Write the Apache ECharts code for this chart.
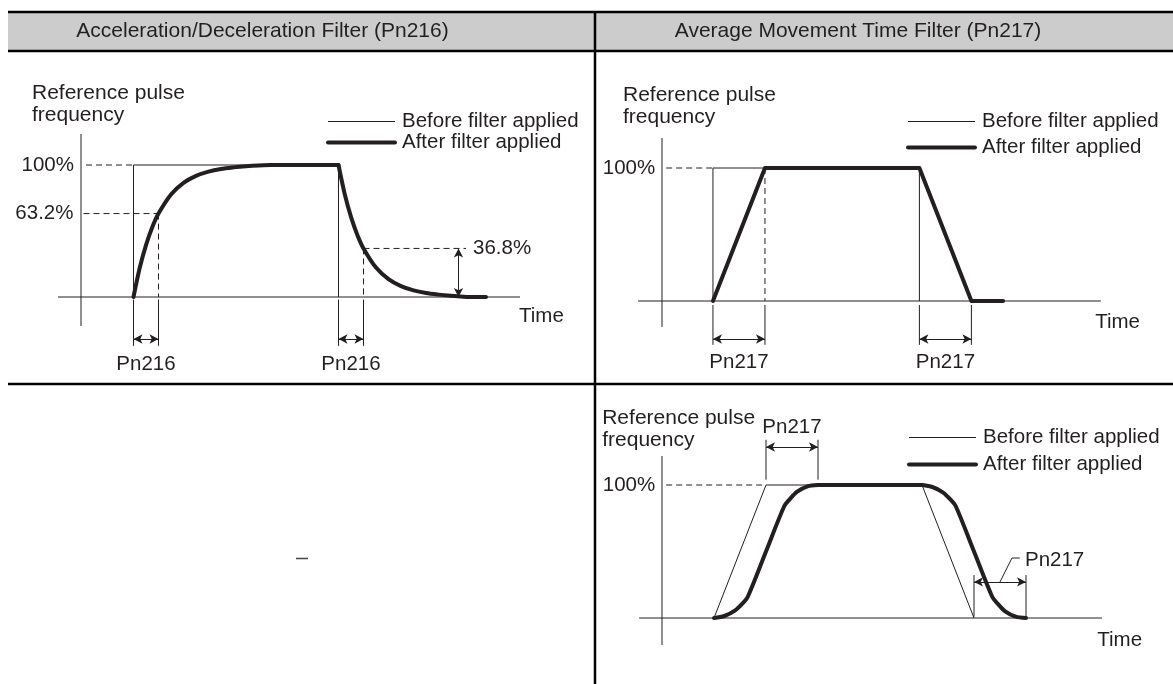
<!DOCTYPE html>
<html>
<head>
<meta charset="utf-8">
<script src="https://cdn.jsdelivr.net/npm/echarts@6/dist/echarts.min.js"></script>
<style>
html,body{margin:0;padding:0;background:#fff;}
#chart{width:1173px;height:684px;}
</style>
</head>
<body>
<div id="chart"></div>
<script>
// ---------------- DATA ----------------
const headerTitles = ['Acceleration/Deceleration Filter (Pn216)', 'Average Movement Time Filter (Pn217)'];
const axisTitle = 'Reference pulse\nfrequency';
const timeLabel = 'Time';
const legendNames = ['Before filter applied', 'After filter applied'];

// Panel 1: acceleration/deceleration filter (time in filter time constants, value in %)
const p1Before = [[2.1, 0], [2.1, 100], [10.3, 100], [10.3, 0]];
const p1AfterRise = [[2.1, 0], [2.35, 22.1], [2.6, 39.3], [2.85, 52.8], [3.1, 63.2], [3.6, 77.7], [4.1, 86.5], [4.6, 91.8], [5.1, 95.0], [5.6, 97.0], [6.1, 98.2], [6.6, 99.1], [7.1, 99.7], [7.6, 100]];
const p1AfterHold = [[7.6, 100], [10.3, 100]];
const p1AfterFall = [[10.3, 100], [10.55, 77.9], [10.8, 60.7], [11.05, 47.2], [11.3, 36.8], [11.8, 22.3], [12.3, 13.5], [12.8, 8.2], [13.3, 5.0], [13.8, 3.0], [14.3, 1.8], [14.8, 0.9], [15.3, 0.2], [15.6, 0]];
const p1AfterTail = [[15.6, 0], [16.2, 0]];
const p1Levels = [100, 63.2, 36.8];
const p1LevelLabels = ['100%', '63.2%', '36.8%'];
const p1Events = [2.1, 3.1, 10.3, 11.3];
const p1EventLabel = 'Pn216';

// Panel 2: average movement time filter, ramp input
const p2Before = [[0.98, 0], [0.98, 100], [4.95, 100], [4.95, 0]];
const p2After = [[0.98, 0], [1.98, 100], [4.95, 100], [5.95, 0], [6.56, 0]];
const p2Levels = [100];
const p2LevelLabels = ['100%'];
const p2Events = [0.98, 1.98, 4.95, 5.95];
const p2EventLabel = 'Pn217';

// Panel 3: average movement time filter, trapezoid input
const p3Before = [[1.0, 0], [2.0, 100], [5.0, 100], [6.0, 0]];
const p3AfterRise = [[1.0, 0], [1.2, 1.5], [1.4, 5.5], [1.55, 11], [1.65, 16], [2.0, 50], [2.35, 84], [2.45, 89], [2.6, 95], [2.8, 99], [3.0, 100]];
const p3AfterHold = [[3.0, 100], [5.0, 100]];
const p3AfterFall = [[5.0, 100], [5.2, 98.5], [5.4, 94.5], [5.55, 89], [5.65, 84], [6.0, 50], [6.35, 16], [6.45, 11], [6.6, 5], [6.8, 1], [7.0, 0]];
const p3Levels = [100];
const p3LevelLabels = ['100%'];
const p3Events = [2.0, 3.0, 6.0, 7.0];
const p3EventLabel = 'Pn217';

// ---------------- STYLE / LAYOUT ----------------
const INK = '#231f20';
const FONT = '"Liberation Sans", Arial, Helvetica, sans-serif';
const FS = 20.5;

// panel coordinate frames: origin pixel, px per unit, value ranges
const frames = [
  {ox: 81, oy: 297, sx: 25, sy: 1.32, xmin: -3, xmax: 20.6, ymin: -66, ymax: 186},
  {ox: 662, oy: 301, sx: 52, sy: 1.33, xmin: -1.25, xmax: 9.8, ymin: -61, ymax: 186},
  {ox: 662, oy: 618, sx: 52, sy: 1.33, xmin: -1.25, xmax: 9.8, ymin: -49, ymax: 174}
];
const grids = frames.map(f => ({
  left: f.ox + f.sx * f.xmin,
  top: f.oy - f.sy * f.ymax,
  width: f.sx * (f.xmax - f.xmin),
  height: f.sy * (f.ymax - f.ymin),
  containLabel: false
}));
const xAxes = frames.map((f, i) => ({type: 'value', gridIndex: i, min: f.xmin, max: f.xmax, show: false}));
const yAxes = frames.map((f, i) => ({type: 'value', gridIndex: i, min: f.ymin, max: f.ymax, show: false}));

const series = [];
function line(gi, data, o) {
  o = o || {};
  series.push({
    type: 'line', name: o.name, xAxisIndex: gi, yAxisIndex: gi, data: data,
    symbol: 'none', silent: true, animation: false, clip: false,
    smooth: o.smooth || false,
    lineStyle: {color: INK, width: o.w || 1, type: o.dash ? [6, 4] : 'solid', cap: o.w > 2 ? 'round' : 'butt', join: 'round'},
    itemStyle: {color: INK},
    z: o.z || 2
  });
}
function arrows(gi, pairs) {
  series.push({
    type: 'line', xAxisIndex: gi, yAxisIndex: gi, data: [pairs[0][0]], symbol: 'none', silent: true, animation: false,
    markLine: {
      silent: true, animation: false, symbol: ['arrow', 'arrow'], symbolSize: [7, 9],
      label: {show: false}, lineStyle: {color: INK, width: 1, type: 'solid'},
      emphasis: {disabled: true},
      data: pairs.map(p => [{coord: p[0]}, {coord: p[1]}])
    }
  });
}
function texts(gi, items) {
  series.push({
    type: 'scatter', xAxisIndex: gi, yAxisIndex: gi, silent: true, animation: false,
    symbolSize: 1, itemStyle: {color: 'rgba(0,0,0,0)', opacity: 1},
    data: items.map(it => ({
      value: it.at,
      label: {show: true, position: 'inside', formatter: it.text, align: it.align || 'center', verticalAlign: 'middle',
        color: INK, fontSize: it.fs || FS, fontFamily: FONT, lineHeight: 22, opacity: 1}
    }))
  });
}

// ---- Panel 1 ----
line(0, [[-0.92, 0], [17.56, 0]]);
line(0, [[0, -22], [0, 123.5]]);
line(0, p1Before, {name: legendNames[0]});
line(0, p1AfterRise, {name: legendNames[1], w: 4, smooth: 0.3, z: 3});
line(0, p1AfterHold, {name: legendNames[1], w: 4, z: 3});
line(0, p1AfterFall, {name: legendNames[1], w: 4, smooth: 0.3, z: 3});
line(0, p1AfterTail, {name: legendNames[1], w: 4, z: 3});
line(0, [[0.2, p1Levels[0]], [p1Events[0], p1Levels[0]]], {dash: true});
line(0, [[0.1, p1Levels[1]], [p1Events[1], p1Levels[1]]], {dash: true});
line(0, [[p1Events[1], p1Levels[1]], [p1Events[1], 0]], {dash: true});
line(0, [[p1Events[3], p1Levels[2]], [p1Events[3], 0]], {dash: true});
line(0, [[p1Events[3], p1Levels[2]], [15.4, p1Levels[2]]], {dash: true});
p1Events.forEach(t => line(0, [[t, -2], [t, -37]]));
arrows(0, [[[p1Events[0], -31.8], [p1Events[1], -31.8]], [[p1Events[2], -31.8], [p1Events[3], -31.8]], [[15.1, p1Levels[2]], [15.1, 0]]]);
texts(0, [
  {text: axisTitle, at: [-1.96, 146.2], align: 'left', fs: 21},
  {text: p1LevelLabels[0], at: [-0.28, p1Levels[0]], align: 'right'},
  {text: p1LevelLabels[1], at: [-0.3, p1Levels[1]], align: 'right'},
  {text: p1LevelLabels[2], at: [15.68, p1Levels[2]], align: 'left'},
  {text: p1EventLabel, at: [(p1Events[0] + p1Events[1]) / 2, -50.8]},
  {text: p1EventLabel, at: [(p1Events[2] + p1Events[3]) / 2, -50.8]},
  {text: timeLabel, at: [17.52, -14.4], align: 'left'}
]);

// ---- Panel 2 ----
line(1, [[-0.46, 0], [8.44, 0]]);
line(1, [[0, -19.5], [0, 122.6]]);
line(1, p2Before, {name: legendNames[0]});
line(1, p2After, {name: legendNames[1], w: 4, z: 3});
line(1, [[0.08, p2Levels[0]], [p2Events[0], p2Levels[0]]], {dash: true});
line(1, [[p2Events[1], p2Levels[0]], [p2Events[1], 0]], {dash: true});
p2Events.forEach(t => line(1, [[t, -3], [t, -33]]));
arrows(1, [[[p2Events[0], -28.6], [p2Events[1], -28.6]], [[p2Events[2], -28.6], [p2Events[3], -28.6]]]);
texts(1, [
  {text: axisTitle, at: [-0.75, 146.6], align: 'left', fs: 21},
  {text: p2LevelLabels[0], at: [-0.13, p2Levels[0]], align: 'right'},
  {text: p2EventLabel, at: [(p2Events[0] + p2Events[1]) / 2, -45.9]},
  {text: p2EventLabel, at: [(p2Events[2] + p2Events[3]) / 2, -45.9]},
  {text: timeLabel, at: [8.33, -15.8], align: 'left'}
]);

// ---- Panel 3 ----
line(2, [[-0.44, 0], [8.46, 0]]);
line(2, [[0, -20.3], [0, 121.8]]);
line(2, p3Before, {name: legendNames[0]});
line(2, p3AfterRise, {name: legendNames[1], w: 4, smooth: 0.3, z: 3});
line(2, p3AfterHold, {name: legendNames[1], w: 4, z: 3});
line(2, p3AfterFall, {name: legendNames[1], w: 4, smooth: 0.3, z: 3});
line(2, [[0.08, p3Levels[0]], [p3Events[0], p3Levels[0]]], {dash: true});
[p3Events[0], p3Events[1]].forEach(t => line(2, [[t, 104], [t, 134]]));
[p3Events[2], p3Events[3]].forEach(t => line(2, [[t, 1], [t, 32.3]]));
arrows(2, [[[p3Events[0], 128.6], [p3Events[1], 128.6]], [[p3Events[2], 27.1], [p3Events[3], 27.1]]]);
line(2, [[(p3Events[2] + p3Events[3]) / 2, 27.1], [6.73, 45.1], [6.88, 45.1]]);
texts(2, [
  {text: axisTitle, at: [-1.15, 141.7], align: 'left', fs: 21},
  {text: p3LevelLabels[0], at: [-0.13, p3Levels[0]], align: 'right'},
  {text: p3EventLabel, at: [(p3Events[0] + p3Events[1]) / 2, 143.6]},
  {text: p3EventLabel, at: [6.98, 43.6], align: 'left'},
  {text: timeLabel, at: [8.37, -16.5], align: 'left'}
]);

// ---- Legends ----
function legend(left, top, gap) {
  return {
    left: left, top: top, orient: 'vertical', padding: 0, itemGap: gap,
    itemWidth: 67, itemHeight: 14, selectedMode: false,
    data: legendNames,
    lineStyle: {width: 'inherit'},
    itemStyle: {opacity: 0},
    textStyle: {fontSize: FS, fontFamily: FONT, color: INK, lineHeight: 20, padding: [0, 0, 0, 2]}
  };
}

// ---- Table frame ----
const graphic = [
  {type: 'rect', shape: {x: 8, y: 12, width: 1165, height: 39}, style: {fill: '#cccccc'}, silent: true, z: 0},
  {type: 'line', shape: {x1: 8, y1: 12, x2: 1173, y2: 12}, style: {stroke: '#000', lineWidth: 2.5}, silent: true},
  {type: 'line', shape: {x1: 8, y1: 51, x2: 1173, y2: 51}, style: {stroke: '#000', lineWidth: 2.5}, silent: true},
  {type: 'line', shape: {x1: 8, y1: 384, x2: 1173, y2: 384}, style: {stroke: '#000', lineWidth: 2.5}, silent: true},
  {type: 'line', shape: {x1: 595, y1: 12, x2: 595, y2: 684}, style: {stroke: '#000', lineWidth: 2.5}, silent: true},
  {type: 'line', shape: {x1: 296, y1: 558.5, x2: 308, y2: 558.5}, style: {stroke: '#444', lineWidth: 1.5}, silent: true},
  {type: 'text', x: 262.5, y: 31.5, style: {text: headerTitles[0], fill: INK, font: '21px ' + FONT, textAlign: 'center', textVerticalAlign: 'middle'}, silent: true},
  {type: 'text', x: 858, y: 31.5, style: {text: headerTitles[1], fill: INK, font: '21px ' + FONT, textAlign: 'center', textVerticalAlign: 'middle'}, silent: true}
];

const chart = echarts.init(document.getElementById('chart'), null, {renderer: 'canvas'});
chart.setOption({
  backgroundColor: '#ffffff',
  animation: false,
  grid: grids,
  xAxis: xAxes,
  yAxis: yAxes,
  legend: [legend(326, 111, 0), legend(906, 111, 5), legend(907, 427, 6)],
  graphic: graphic,
  series: series
});
</script>
</body>
</html>
